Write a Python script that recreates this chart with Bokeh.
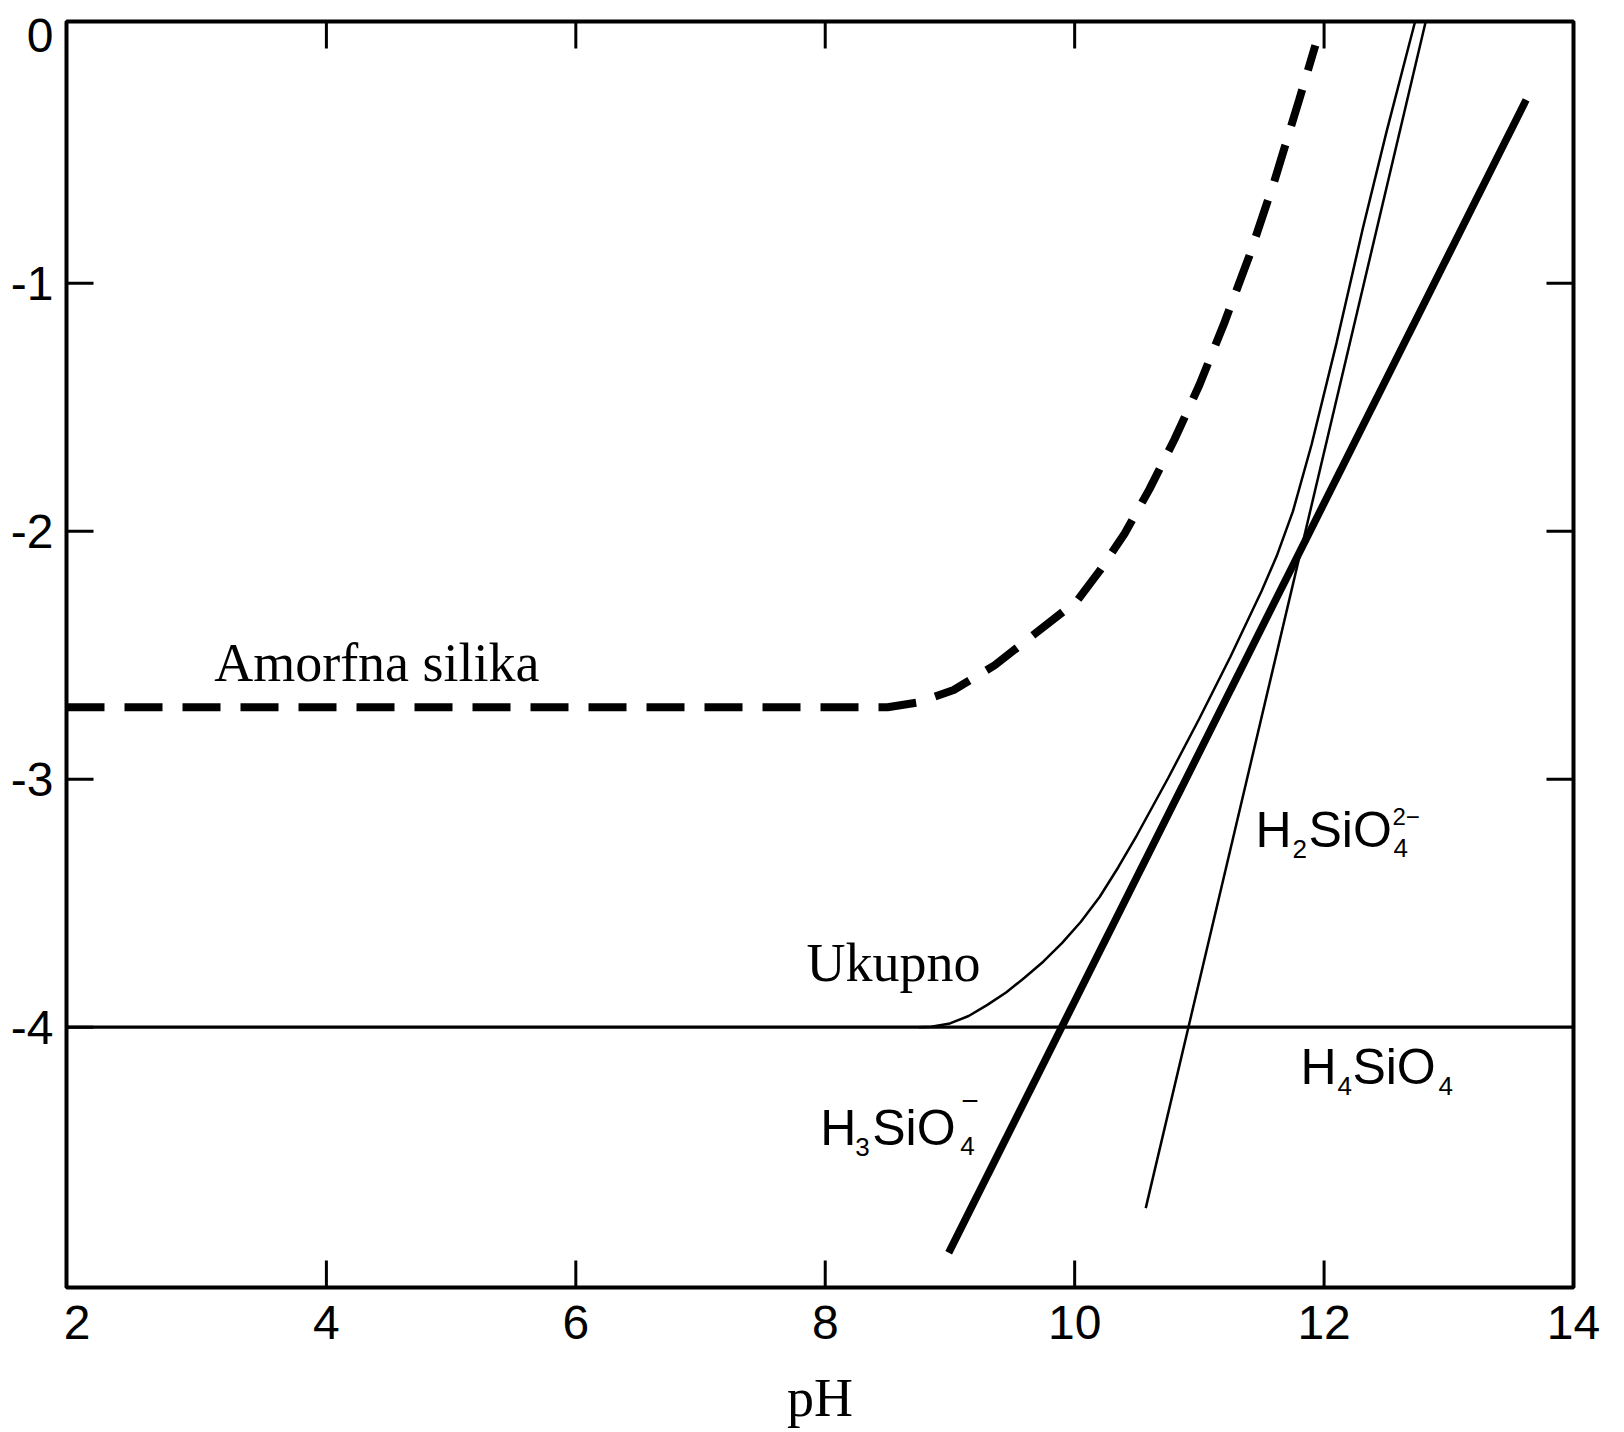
from bokeh.plotting import figure
from bokeh.models import Range1d, FixedTicker, Label
from bokeh.embed import file_html
from bokeh.resources import INLINE

# ---- data ----
x_tick_labels = [2, 4, 6, 8, 10, 12, 14]
y_tick_labels = [0, -1, -2, -3, -4]
x_tick_marks = [4, 6, 8, 10, 12]
y_tick_marks_left = [-1, -2, -3, -4]
y_tick_marks_right = [-1, -2, -3]

# H4SiO4 (horizontal)
h4_ph = [1.916, 14.0]
h4_log = [-4.0, -4.0]

# H3SiO4- (thick straight line)
h3_ph = [8.99, 13.62]
h3_log = [-4.91, -0.26]

# H2SiO4 2- (thin straight line)
h2_ph = [10.57, 12.815]
h2_log = [-4.73, 0.056]

# Ukupno (total)
tot_ph = [8.75, 8.85, 9.0, 9.15, 9.3, 9.45, 9.6, 9.75, 9.9, 10.05, 10.2, 10.35, 10.5,
          10.75, 11.0, 11.25, 11.5, 11.62, 11.75, 11.9, 12.1, 12.31, 12.5, 12.67, 12.73]
tot_log = [-4.0, -3.998, -3.985, -3.955, -3.91, -3.86, -3.80, -3.735, -3.66, -3.575, -3.475, -3.355, -3.225,
           -2.995, -2.755, -2.505, -2.24, -2.10, -1.92, -1.65, -1.24, -0.78, -0.39, -0.06, 0.056]

# Amorfna silika (dashed)
am_ph = [1.916, 8.5, 8.75, 9.03, 9.36, 9.69, 10.02, 10.2, 10.4, 10.6, 10.8, 11.0,
         11.2, 11.4, 11.6, 11.8, 11.93]
am_log = [-2.71, -2.71, -2.69, -2.64, -2.54, -2.41, -2.28, -2.16, -2.01, -1.83, -1.63, -1.41,
          -1.16, -0.89, -0.59, -0.26, -0.04]

X0, X1 = 1.916, 14.0
Y0, Y1 = -5.05, 0.056

p = figure(width=1609, height=1432,
           x_range=Range1d(X0, X1), y_range=Range1d(Y0, Y1),
           output_backend="svg", toolbar_location=None,
           min_border_left=66, min_border_top=21, min_border_right=36, min_border_bottom=145)

p.background_fill_color = "white"
p.border_fill_color = "white"
p.xgrid.visible = False
p.ygrid.visible = False
p.outline_line_color = "black"
p.outline_line_width = 4
p.outline_line_alpha = 1.0

SANS = "Liberation Sans"
SERIF = "Liberation Serif"

xa = p.xaxis[0]
xa.ticker = FixedTicker(ticks=x_tick_labels)
xa.major_tick_line_color = None
xa.minor_tick_line_color = None
xa.axis_line_color = None
xa.major_label_text_font = SANS
xa.major_label_text_font_size = "48px"
xa.major_label_text_color = "black"
xa.major_label_standoff = 12
xa.axis_label = "pH"
xa.axis_label_text_font = SERIF
xa.axis_label_text_font_style = "normal"
xa.axis_label_text_font_size = "54px"
xa.axis_label_text_color = "black"
xa.axis_label_standoff = 26

ya = p.yaxis[0]
ya.ticker = FixedTicker(ticks=y_tick_labels)
ya.major_label_overrides = {t: str(t) for t in y_tick_labels}
ya.major_tick_line_color = None
ya.minor_tick_line_color = None
ya.axis_line_color = None
ya.major_label_text_font = SANS
ya.major_label_text_font_size = "48px"
ya.major_label_text_color = "black"
ya.major_label_standoff = 7

# inward tick marks
TL = 27
p.ray(x=x_tick_marks, y=[Y0] * len(x_tick_marks), length=TL, length_units="screen",
      angle=90, angle_units="deg", line_width=3, line_color="black")
p.ray(x=x_tick_marks, y=[Y1] * len(x_tick_marks), length=TL, length_units="screen",
      angle=-90, angle_units="deg", line_width=3, line_color="black")
p.ray(x=[X0] * len(y_tick_marks_left), y=y_tick_marks_left, length=TL, length_units="screen",
      angle=0, angle_units="deg", line_width=3, line_color="black")
p.ray(x=[X1] * len(y_tick_marks_right), y=y_tick_marks_right, length=TL, length_units="screen",
      angle=180, angle_units="deg", line_width=3, line_color="black")

# curves
p.line(h4_ph, h4_log, line_color="black", line_width=3.2)
p.line(tot_ph, tot_log, line_color="black", line_width=2.5)
p.line(h2_ph, h2_log, line_color="black", line_width=2.5)
p.line(h3_ph, h3_log, line_color="black", line_width=7.5)
p.line(am_ph, am_log, line_color="black", line_width=8, line_dash="38 20")

BASE_FIX = 0.37  # baseline compensation (fraction of font size)


def lab(x, y, text, font=SANS, size=50, dx=0, dy=0, align="left"):
    p.add_layout(Label(x=x, y=y, text=text, x_offset=dx, y_offset=dy + BASE_FIX * size,
                       text_font=font, text_font_size=f"{size}px",
                       text_color="black", text_align=align,
                       text_baseline="alphabetic"))


lab(3.10, -2.61, "Amorfna silika", font=SERIF, size=54)
lab(7.85, -3.82, "Ukupno", font=SERIF, size=54)

# H4SiO4
ax, ay = 11.81, -4.235
lab(ax, ay, "H")
lab(ax, ay, "4", size=26, dx=37, dy=-10)
lab(ax, ay, "SiO", dx=52)
lab(ax, ay, "4", size=26, dx=138, dy=-10)

# H2SiO4 2-
ax, ay = 11.45, -3.28
lab(ax, ay, "H")
lab(ax, ay, "2", size=26, dx=37, dy=-10)
lab(ax, ay, "SiO", dx=53)
lab(ax, ay, "4", size=26, dx=138, dy=-9)
lab(ax, ay, "2\u2212", size=24, dx=137, dy=23)

# H3SiO4 -
ax, ay = 7.96, -4.48
lab(ax, ay, "H")
lab(ax, ay, "3", size=26, dx=35, dy=-10)
lab(ax, ay, "SiO", dx=52)
lab(ax, ay, "4", size=26, dx=140, dy=-9)
lab(ax, ay, "\u2212", size=30, dx=141, dy=34)

open("out.html", "w").write(file_html(p, INLINE))
